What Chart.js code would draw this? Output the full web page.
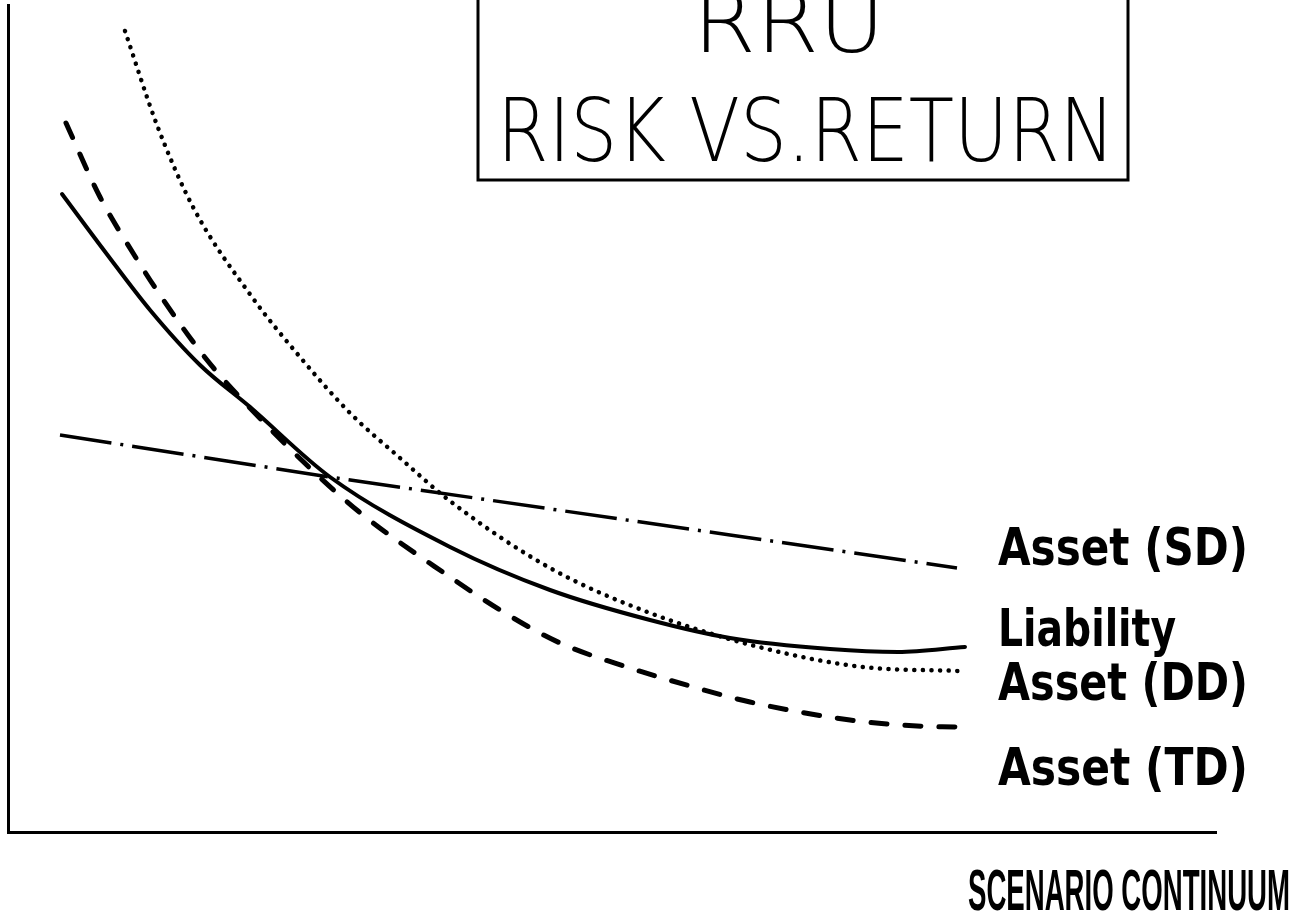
<!DOCTYPE html>
<html>
<head>
<meta charset="utf-8">
<title>RRU Risk vs. Return</title>
<script src="https://cdn.jsdelivr.net/npm/chart.js@4.4.1/dist/chart.umd.min.js"></script>
<style>
  html, body { margin: 0; padding: 0; background: #fff; }
  #wrap { width: 1303px; height: 920px; }
</style>
</head>
<body>
<div id="wrap"><canvas id="riskChart" width="1303" height="920"></canvas></div>
<script>
// values (x = scenario position, y = relative level)
const liabilityX = [5.4, 9.8, 14.2, 19.2, 24.2, 32.2, 44.2, 54.2, 64.2, 72.2, 82.2, 89.0, 95.7];
const liabilityY = [63.8, 57.9, 52.2, 46.7, 42.5, 35.5, 28.5, 24.2, 21.2, 19.4, 18.3, 18.0, 18.5];

const assetTDX = [5.8, 9.2, 12.5, 15.2, 19.9, 24.2, 30.5, 35.5, 44.2, 49.2, 55.2, 62.2, 68.2, 74.2, 84.2, 90.9, 94.7];
const assetTDY = [70.9, 63.5, 57.9, 53.7, 47.2, 42.4, 36.1, 31.7, 25.5, 22.2, 18.9, 16.4, 14.6, 13.0, 11.2, 10.6, 10.5];

const assetDDX = [11.7, 14.9, 18.5, 24.4, 29.2, 34.2, 39.2, 44.2, 54.2, 64.2, 75.5, 85.5, 95.2];
const assetDDY = [80.1, 70.7, 62.5, 53.5, 47.5, 41.9, 37.4, 33.1, 26.4, 21.9, 18.4, 16.5, 16.1];

const assetSDX = [5.2, 32.2, 72.2, 94.9];
const assetSDY = [39.7, 35.5, 29.7, 26.4];

const seriesLabels = ['Asset (SD)', 'Liability', 'Asset (DD)', 'Asset (TD)'];
const titleLines = ['RRU', 'RISK VS.RETURN'];
const axisTitle = 'SCENARIO CONTINUUM';

function toPoints(xs, ys) {
    return xs.map(function (x, i) { return { x: x, y: ys[i] }; });
}

// draw text squeezed/stretched to a given width
function fitText(ctx, text, x, y, width, font) {
    ctx.font = font;
    var w = ctx.measureText(text).width;
    ctx.save();
    ctx.translate(x, y);
    ctx.scale(width / w, 1);
    ctx.fillText(text, 0, 0);
    ctx.restore();
}

// title box, end labels and axis title
const annotations = {
    id: 'annotations',
    afterDraw: function (chart) {
        const ctx = chart.ctx;
        ctx.save();
        ctx.fillStyle = '#000';
        ctx.strokeStyle = '#000';
        ctx.textBaseline = 'alphabetic';
        ctx.textAlign = 'left';

        // title box
        ctx.lineWidth = 3;
        ctx.strokeRect(478, -10, 650, 190);
        fitText(ctx, titleLines[0], 693, 52, 192, "300 88px 'DejaVu Sans'");
        fitText(ctx, titleLines[1], 497, 161, 618, "300 88px 'DejaVu Sans'");

        // series labels at the right ends
        const labelX = 998;
        const labelBase = [565, 646, 700, 785];
        const labelW = [250, 178, 250, 250];
        for (let i = 0; i < seriesLabels.length; i++) {
            fitText(ctx, seriesLabels[i], labelX, labelBase[i], labelW[i], "bold 52px 'DejaVu Sans'");
        }

        // axis title
        fitText(ctx, axisTitle, 968, 910, 322, "bold 57px 'Liberation Sans'");
        ctx.restore();
    }
};

const ctx = document.getElementById('riskChart').getContext('2d');
const riskChart = new Chart(ctx, {
    type: 'line',
    data: {
        datasets: [
            {
                label: seriesLabels[0],
                data: toPoints(assetSDX, assetSDY),
                borderColor: '#000',
                borderWidth: 3.5,
                borderDash: [52, 9, 3, 9],
                tension: 0
            },
            {
                label: seriesLabels[1],
                data: toPoints(liabilityX, liabilityY),
                borderColor: '#000',
                borderWidth: 4,
                borderCapStyle: 'round',
                cubicInterpolationMode: 'monotone'
            },
            {
                label: seriesLabels[2],
                data: toPoints(assetDDX, assetDDY),
                borderColor: '#000',
                borderWidth: 4.5,
                borderDash: [0.1, 8.5],
                borderCapStyle: 'round',
                cubicInterpolationMode: 'monotone'
            },
            {
                label: seriesLabels[3],
                data: toPoints(assetTDX, assetTDY),
                borderColor: '#000',
                borderWidth: 5,
                borderDash: [16, 18],
                borderCapStyle: 'round',
                cubicInterpolationMode: 'monotone'
            }
        ]
    },
    options: {
        responsive: false,
        animation: false,
        layout: {
            padding: { left: 8, top: 5, right: 87, bottom: 88 }
        },
        elements: {
            point: { radius: 0 }
        },
        scales: {
            x: {
                type: 'linear',
                min: 0,
                max: 120.8,
                grid: { display: false, drawTicks: false },
                ticks: { display: false },
                border: { display: true, color: '#000', width: 3 }
            },
            y: {
                type: 'linear',
                min: 0,
                max: 82.7,
                grid: { display: false, drawTicks: false },
                ticks: { display: false },
                border: { display: true, color: '#000', width: 3 }
            }
        },
        plugins: {
            legend: { display: false },
            tooltip: { enabled: false },
            title: { display: false }
        }
    },
    plugins: [annotations]
});
</script>
</body>
</html>
